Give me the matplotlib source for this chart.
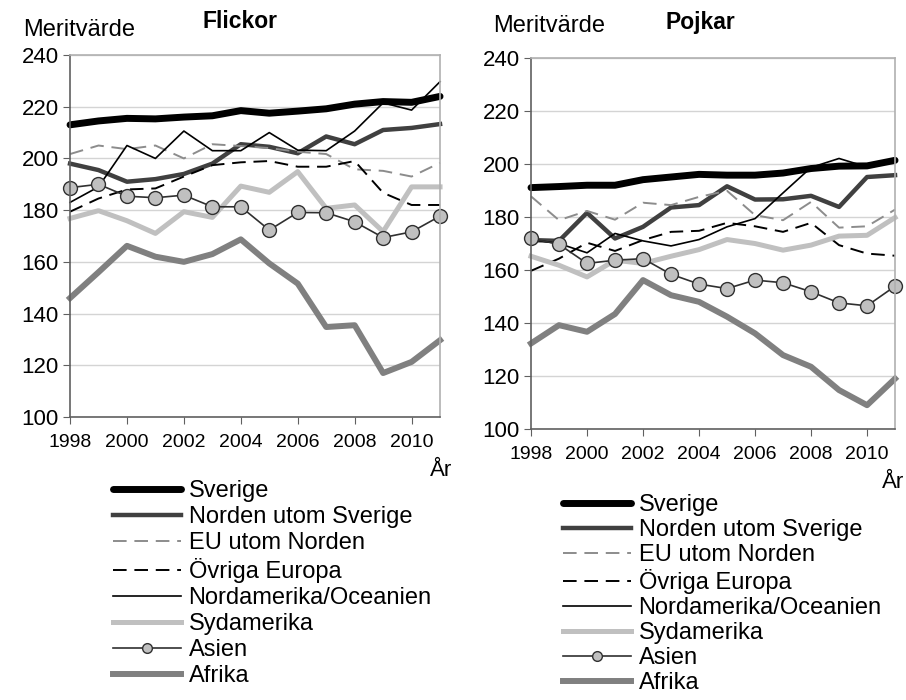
import matplotlib
matplotlib.use("Agg")
import matplotlib.pyplot as plt

plt.rcParams["font.family"] = ["Liberation Sans", "DejaVu Sans"]

# === data ===
years = list(range(1998, 2012))
labels = ["Sverige", "Norden utom Sverige", "EU utom Norden", "Övriga Europa",
          "Nordamerika/Oceanien", "Sydamerika", "Asien", "Afrika"]

flickor_sverige = [213, 214.5, 215.5, 215.3, 216, 216.5, 218.5, 217.5, 218.3, 219.2, 221, 222, 221.7, 224]
flickor_norden = [198, 195.5, 191, 192, 194, 198, 205.5, 204.5, 202, 208.5, 205.5, 211, 211.8, 213.3]
flickor_eu = [201.7, 205, 203.6, 205, 200, 205.5, 204.8, 204, 202.6, 201.7, 195.8, 195.2, 193, 198.3]
flickor_ovriga = [179.4, 184.5, 188, 188.4, 193, 197.4, 198.5, 199, 196.8, 196.8, 199, 186.7, 182, 182]
flickor_nordam = [183, 189, 205, 200, 210.6, 203, 203, 210, 203.2, 203, 210.6, 221.5, 218.7, 229.7]
flickor_sydam = [176.8, 179.8, 175.9, 171, 179.4, 177.2, 189.3, 186.9, 194.9, 180.7, 182, 171.7, 189, 189]
flickor_asien = [188.7, 190, 185.4, 184.8, 185.8, 181.3, 181.3, 172.3, 179.1, 179, 175.5, 169.4, 171.6, 177.7]
flickor_afrika = [146, 156, 166.2, 162, 160, 163, 168.7, 159.4, 151.6, 134.8, 135.5, 117, 121.3, 129.7]

pojkar_sverige = [191.1, 191.5, 192, 192, 194.1, 195.1, 196.1, 195.8, 195.8, 196.6, 198.3, 199.2, 199.3, 201.4]
pojkar_norden = [171.3, 171, 181.6, 171.9, 176.3, 183.6, 184.5, 191.6, 186.6, 186.7, 188, 183.8, 195.1, 195.8]
pojkar_eu = [187.8, 178.8, 182.3, 179, 185.4, 184.5, 187.6, 189.9, 180.7, 178.8, 185.7, 176, 176.5, 182.8]
pojkar_ovriga = [159.7, 164.3, 170.3, 167.2, 171.3, 174.4, 174.8, 177.8, 176.5, 174.4, 177.8, 169.4, 166.2, 165.4]
pojkar_nordam = [171.5, 170, 166.5, 173.8, 171, 169.1, 171.5, 176.3, 179.4, 189.1, 198.7, 202.1, 198.9, 200.8]
pojkar_sydam = [165.2, 161.8, 157.4, 163.7, 162.5, 165.2, 167.7, 171.5, 170, 167.5, 169.4, 172.8, 173.1, 179.8]
pojkar_asien = [171.9, 169.7, 162.5, 163.7, 164.3, 158.4, 154.7, 153, 156.2, 155.2, 151.8, 147.6, 146.5, 153.9]
pojkar_afrika = [132.3, 139.2, 136.7, 143.4, 156.2, 150.5, 148, 142.4, 136.1, 127.9, 123.5, 114.7, 109, 119]

flickor = [flickor_sverige, flickor_norden, flickor_eu, flickor_ovriga,
           flickor_nordam, flickor_sydam, flickor_asien, flickor_afrika]
pojkar = [pojkar_sverige, pojkar_norden, pojkar_eu, pojkar_ovriga,
          pojkar_nordam, pojkar_sydam, pojkar_asien, pojkar_afrika]

styles = [
    dict(color="black", lw=5.0, solid_capstyle="round"),
    dict(color="#404040", lw=3.2),
    dict(color="#8c8c8c", lw=1.4, ls=(0, (7, 4))),
    dict(color="black", lw=1.4, ls=(0, (7, 4))),
    dict(color="black", lw=1.2),
    dict(color="#c0c0c0", lw=3.6),
    dict(color="#303030", lw=1.2, marker="o", markersize=10,
         markerfacecolor="#c0c0c0", markeredgecolor="#303030", markeredgewidth=1.0),
    dict(color="#808080", lw=4.3),
]

fig = plt.figure(figsize=(9.06, 7.0), dpi=100)
ax1 = fig.add_axes([0.0773, 0.4043, 0.4084, 0.5171])
ax2 = fig.add_axes([0.5861, 0.3871, 0.4018, 0.5300])


def draw(ax, data):
    for vals, lab, st in zip(data, labels, styles):
        ax.plot(years, vals, label=lab, clip_on=False, **st)
    ax.set_xlim(1998, 2011)
    ax.set_ylim(100, 240)
    ax.set_yticks(range(100, 241, 20))
    ax.set_xticks(range(1998, 2011, 2))
    ax.tick_params(length=5, direction="out", color="#606060")
    ax.tick_params(axis="y", labelsize=16, pad=3)
    ax.tick_params(axis="x", labelsize=14, pad=7)
    ax.grid(axis="y", color="#d4d4d4", lw=1.0)
    ax.set_axisbelow(True)
    for s in ["left", "bottom"]:
        ax.spines[s].set_color("#606060")
        ax.spines[s].set_linewidth(1.2)
    for s in ["top", "right"]:
        ax.spines[s].set_color("#b0b0b0")
        ax.spines[s].set_linewidth(1.2)


draw(ax1, flickor)
draw(ax2, pojkar)

# === texts ===
fig.text(23 / 906, 1 - 30 / 700, "Meritvärde", fontsize=17, va="center", ha="left")
fig.text(240 / 906, 1 - 22 / 700, "Flickor", fontsize=16.5, fontweight="bold", va="center", ha="center")
fig.text(493 / 906, 1 - 26 / 700, "Meritvärde", fontsize=17, va="center", ha="left")
fig.text(700 / 906, 1 - 22 / 700, "Pojkar", fontsize=16.5, fontweight="bold", va="center", ha="center")
fig.text(441 / 906, 1 - 471 / 700, "År", fontsize=16, va="center", ha="center")
fig.text(893 / 906, 1 - 482 / 700, "År", fontsize=16, va="center", ha="center")

# === legends ===
leg_kw = dict(frameon=False, fontsize=17, handlelength=2.9, handletextpad=0.3,
              borderaxespad=0, borderpad=0)
h1, l1 = ax1.get_legend_handles_labels()
leg1 = fig.legend(h1, l1, loc="upper left", bbox_to_anchor=(113 / 906, 1 - 480 / 700),
                  labelspacing=0.17, **leg_kw)
h2, l2 = ax2.get_legend_handles_labels()
leg2 = fig.legend(h2, l2, loc="upper left", bbox_to_anchor=(563 / 906, 1 - 494 / 700),
                  labelspacing=0.13, **leg_kw)
for leg in (leg1, leg2):
    leg.legend_handles[6].set_markersize(7)

fig.savefig("out.png", dpi=100)
